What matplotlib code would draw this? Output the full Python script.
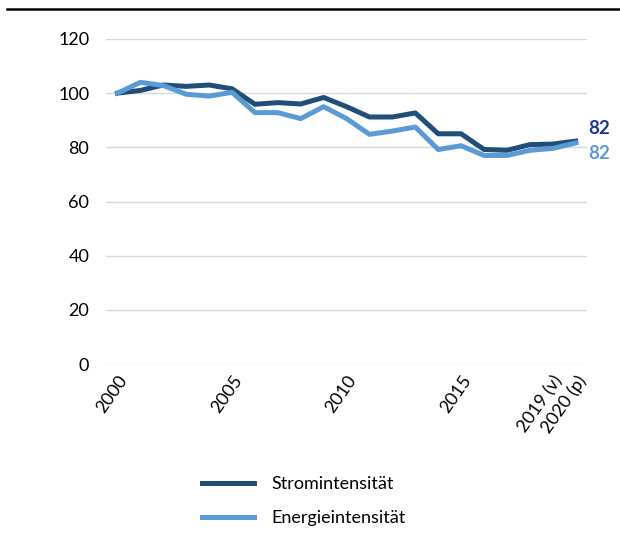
import matplotlib.pyplot as plt
from matplotlib.lines import Line2D

plt.rcParams['font.family'] = ['Lato', 'DejaVu Sans']

# Indexwerte 2000 = 100
jahre = ['2000', '2001', '2002', '2003', '2004', '2005', '2006', '2007', '2008', '2009',
         '2010', '2011', '2012', '2013', '2014', '2015', '2016', '2017', '2018',
         '2019 (v)', '2020 (p)']
strom = [100, 101, 103, 102.5, 103, 101.6, 95.9, 96.5, 96, 98.4,
         95, 91.2, 91.2, 92.7, 85, 85, 79.2, 78.9, 81, 81.2, 82.3]
energie = [100, 104, 102.8, 99.6, 98.9, 100.3, 92.8, 92.8, 90.6, 95,
           90.6, 84.8, 86, 87.5, 79.2, 80.6, 77, 77, 78.9, 79.6, 81.6]
tick_idx = [0, 5, 10, 15, 19, 20]

c_strom = '#1F4E79'
c_energie = '#5B9BD5'

fig = plt.figure(figsize=(6.2, 5.41), dpi=100)
ax = fig.add_axes([0.171, 0.327, 0.776, 0.601])

x = range(len(jahre))
ax.plot(x, strom, color=c_strom, lw=3.6, label='Stromintensität', solid_joinstyle='round')
ax.plot(x, energie, color=c_energie, lw=3.6, label='Energieintensität', solid_joinstyle='round')

# Endwerte rechts
ax.text(len(jahre) - 0.45, strom[-1] + 4.5, f'{strom[-1]:.0f}', color='#1B3A8C',
        fontsize=13.5, fontweight='bold', va='center', ha='left')
ax.text(len(jahre) - 0.45, energie[-1] - 3.8, f'{energie[-1]:.0f}', color=c_energie,
        fontsize=13.5, fontweight='bold', va='center', ha='left')

ax.set_xlim(-0.5, len(jahre) - 0.5)
ax.set_ylim(0, 120)
ax.set_yticks(range(0, 121, 20))
ax.set_xticks(tick_idx)
ax.set_xticklabels([jahre[i] for i in tick_idx], rotation=55, ha='right',
                   rotation_mode='anchor', fontsize=13)
ax.tick_params(axis='y', labelsize=13, length=0, pad=12)
ax.tick_params(axis='x', length=0, pad=6)
ax.grid(axis='y', color='#D9D9D9', lw=1)
ax.set_axisbelow(True)
for s in ax.spines.values():
    s.set_visible(False)

fig.legend(loc='upper center', bbox_to_anchor=(0.49, 0.15), frameon=False,
           fontsize=13, handlelength=2.9, handletextpad=0.95, labelspacing=1.0)

fig.add_artist(Line2D([0.011, 1.0], [0.983, 0.983], color='black', lw=1.8))

fig.savefig('out.png', dpi=100)
